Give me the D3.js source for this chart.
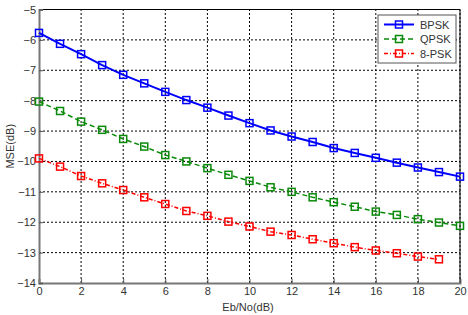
<!DOCTYPE html>
<html>
<head>
<meta charset="utf-8">
<style>
  body { margin: 0; background: #fff; }
  text { font-family: "Liberation Sans", Arial, sans-serif; }
</style>
</head>
<body>
<svg width="468" height="315"></svg>
<script src="https://cdnjs.cloudflare.com/ajax/libs/d3/7.8.5/d3.min.js"></script>
<script>
// Eb/No values (dB)
const ebno = d3.range(0, 21);
const seriesNames = ["BPSK", "QPSK", "8-PSK"];
const bpsk = [-5.77, -6.13, -6.47, -6.83, -7.15, -7.43, -7.71, -7.98, -8.23, -8.49, -8.74,
              -8.98, -9.18, -9.36, -9.56, -9.72, -9.88, -10.04, -10.2, -10.35, -10.5];
const qpsk = [-8.03, -8.34, -8.69, -8.96, -9.26, -9.51, -9.79, -10.0, -10.22, -10.44, -10.64,
              -10.85, -11.0, -11.18, -11.34, -11.49, -11.65, -11.76, -11.9, -12.01, -12.12];
const psk8 = [-9.9, -10.17, -10.48, -10.72, -10.94, -11.18, -11.4, -11.63, -11.79, -11.98, -12.14,
              -12.31, -12.42, -12.56, -12.69, -12.82, -12.93, -13.02, -13.13, -13.22];
const xTicks = d3.range(0, 21, 2);
const yTicks = d3.range(-14, -4, 1);

const svg = d3.select("svg");
const margin = { left: 39, right: 8, top: 9.5, bottom: 32 };
const W = 468, H = 315;

const x = d3.scaleLinear().domain([0, 20]).range([margin.left, W - margin.right]);
const y = d3.scaleLinear().domain([-14, -5]).range([H - margin.bottom, margin.top]);

svg.append("rect").attr("width", W).attr("height", H).attr("fill", "#fff");

// grid
const grid = svg.append("g").attr("stroke", "#000").attr("stroke-width", 1).attr("stroke-dasharray", "2,2");
grid.selectAll(".gx").data(xTicks.slice(1)).enter().append("line")
  .attr("x1", d => x(d)).attr("x2", d => x(d))
  .attr("y1", y(-14)).attr("y2", y(-5));
grid.selectAll(".gy").data(yTicks.slice(1, -1)).enter().append("line")
  .attr("x1", x(0)).attr("x2", x(20))
  .attr("y1", d => y(d)).attr("y2", d => y(d));

// box: top and right
svg.append("line").attr("x1", x(0)).attr("x2", x(20)).attr("y1", y(-5)).attr("y2", y(-5))
  .attr("stroke", "#000").attr("stroke-width", 1);
svg.append("line").attr("x1", x(20)).attr("x2", x(20)).attr("y1", y(-5)).attr("y2", y(-14))
  .attr("stroke", "#000").attr("stroke-width", 1);

// axes
const xAxis = d3.axisBottom(x).tickValues(xTicks).tickSize(-4).tickPadding(4).tickFormat(d3.format("d"));
const yAxis = d3.axisLeft(y).tickValues(yTicks).tickSize(-4).tickPadding(3).tickFormat(d3.format("d"));
const gx = svg.append("g").attr("transform", "translate(0," + y(-14) + ")").call(xAxis);
const gy = svg.append("g").attr("transform", "translate(" + x(0) + ",0)").call(yAxis);
[gx, gy].forEach(g => {
  g.select(".domain").attr("stroke", "#777").attr("stroke-width", 2);
  g.selectAll(".tick line").attr("stroke", "#555");
  g.selectAll("text").attr("fill", "#333").style("font-size", "11px");
});

// lines
const series = [
  { name: seriesNames[0], values: bpsk, color: "#0000ff", width: 2, dash: null },
  { name: seriesNames[1], values: qpsk, color: "#0a8a0a", width: 1.5, dash: "5,3" },
  { name: seriesNames[2], values: psk8, color: "#ff0000", width: 1.5, dash: "4,2,1,2" }
];
const line = d3.line().x((d, i) => x(ebno[i])).y(d => y(d));

series.forEach(s => {
  svg.append("path").datum(s.values)
    .attr("d", line).attr("fill", "none")
    .attr("stroke", s.color).attr("stroke-width", s.width)
    .attr("stroke-dasharray", s.dash);
  svg.selectAll(null).data(s.values).enter().append("rect")
    .attr("x", (d, i) => x(ebno[i]) - 3.5).attr("y", d => y(d) - 3.5)
    .attr("width", 7).attr("height", 7)
    .attr("fill", "none").attr("stroke", s.color).attr("stroke-width", 1.5);
});

// axis labels
svg.append("text").attr("x", 248).attr("y", 311).attr("text-anchor", "middle")
  .attr("fill", "#333").style("font-size", "11px").text("Eb/No(dB)");
svg.append("text").attr("transform", "translate(14," + y(-9.5) + ") rotate(-90)")
  .attr("text-anchor", "middle").attr("fill", "#333").style("font-size", "11px").text("MSE(dB)");

// legend
const lg = svg.append("g").attr("transform", "translate(378,15)");
lg.append("rect").attr("width", 78).attr("height", 48).attr("fill", "#fff")
  .attr("stroke", "#555").attr("stroke-width", 1);
series.forEach((s, i) => {
  const yy = 9.5 + i * 14.5;
  lg.append("line").attr("x1", 6).attr("x2", 36).attr("y1", yy).attr("y2", yy)
    .attr("stroke", s.color).attr("stroke-width", s.width).attr("stroke-dasharray", s.dash);
  lg.append("rect").attr("x", 21 - 3.5).attr("y", yy - 3.5).attr("width", 7).attr("height", 7)
    .attr("fill", "none").attr("stroke", s.color).attr("stroke-width", 1.5);
  lg.append("text").attr("x", 42).attr("y", yy + 4).attr("fill", "#333")
    .style("font-size", "11px").text(s.name);
});
</script>
</body>
</html>
